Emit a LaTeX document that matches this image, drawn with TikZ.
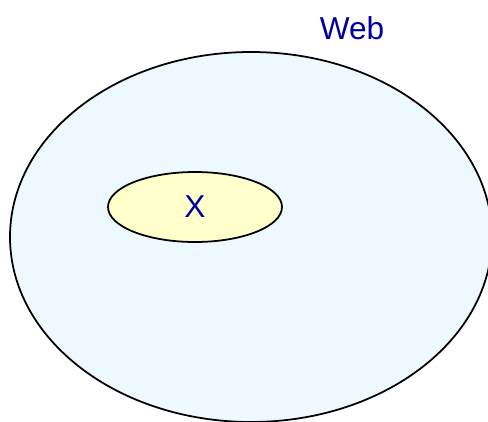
\documentclass[tikz,border=0pt]{standalone}
\usepackage{fontspec}
\setmainfont{Liberation Sans}
\definecolor{webfill}{RGB}{238,248,255}
\definecolor{xfill}{RGB}{255,255,204}
\definecolor{labelblue}{RGB}{0,0,160}
\tikzstyle{set}=[draw=black, line width=0.5pt]
\tikzstyle{label}=[text=labelblue, font=\fontsize{9}{11}\selectfont, inner sep=0pt]
\begin{document}
\begin{tikzpicture}[x=0.01cm, y=-0.01cm]
					\useasboundingbox (0,0) rectangle (488,421);
					\coordinate (W) at (251,237);
					\coordinate (X) at (195,207);

					\filldraw[set, fill=webfill] (W) ellipse [x radius=241, y radius=185];
					\filldraw[set, fill=xfill] (X) ellipse [x radius=87, y radius=35];

					\node[label] (web) at (352,28) {Web};
					\node[label] (x) at (X) {X};
				\end{tikzpicture}
\end{document}
